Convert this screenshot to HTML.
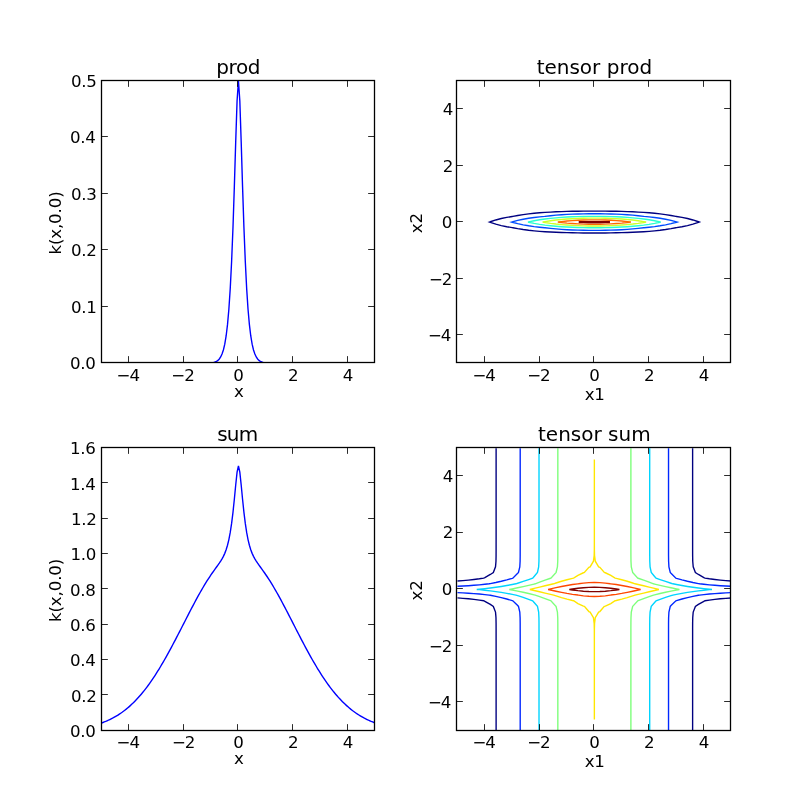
<!DOCTYPE html>
<html><head><meta charset="utf-8"><title>kernel sum and product</title>
<style>
html,body{margin:0;padding:0;background:#fff}
svg{display:block}
text{font-family:"DejaVu Sans","Bitstream Vera Sans","Liberation Sans",sans-serif;fill:#000}
.t{font-size:16.67px;letter-spacing:-0.3px}
.ti{font-size:20.00px}
.n{letter-spacing:-1.1px}
.yl{letter-spacing:-0.15px}
.m{text-anchor:middle}
.e{text-anchor:end}
.sp{fill:none;stroke:#000;stroke-width:1.29;stroke-linejoin:miter}
.tk{fill:none;stroke:#000;stroke-width:0.83}
.ln{fill:none;stroke:#00f;stroke-width:1.39;stroke-linejoin:miter}
.ct{fill:none;stroke-width:1.39;stroke-linejoin:miter}
</style></head><body>
<svg width="812" height="812" viewBox="0 0 812 812">
<rect width="812" height="812" fill="#fff"/>
<clipPath id="c0"><rect x="101.5" y="80.5" width="273" height="282.3"/></clipPath>
<clipPath id="c1"><rect x="456.5" y="80.5" width="274" height="282.3"/></clipPath>
<clipPath id="c2"><rect x="101.5" y="447.5" width="273" height="283.3"/></clipPath>
<clipPath id="c3"><rect x="456.5" y="447.5" width="274" height="283.3"/></clipPath>
<polyline class="ln" clip-path="url(#c0)" points="101.56,363.36 102.93,363.36 104.3,363.36 105.67,363.36 107.04,363.36 108.41,363.36 109.78,363.36 111.14,363.36 112.51,363.36 113.88,363.36 115.25,363.36 116.62,363.36 117.99,363.36 119.36,363.36 120.73,363.36 122.1,363.36 123.46,363.36 124.83,363.36 126.2,363.36 127.57,363.36 128.94,363.36 130.31,363.36 131.68,363.36 133.05,363.36 134.42,363.36 135.78,363.36 137.15,363.36 138.52,363.36 139.89,363.36 141.26,363.36 142.63,363.36 144,363.36 145.37,363.36 146.74,363.36 148.1,363.36 149.47,363.36 150.84,363.36 152.21,363.36 153.58,363.36 154.95,363.36 156.32,363.36 157.69,363.36 159.06,363.36 160.42,363.36 161.79,363.36 163.16,363.36 164.53,363.36 165.9,363.36 167.27,363.36 168.64,363.36 170.01,363.36 171.38,363.36 172.74,363.36 174.11,363.36 175.48,363.36 176.85,363.36 178.22,363.36 179.59,363.36 180.96,363.36 182.33,363.36 183.7,363.36 185.06,363.36 186.43,363.36 187.8,363.36 189.17,363.36 190.54,363.36 191.91,363.36 193.28,363.36 194.65,363.36 196.02,363.35 197.38,363.35 198.75,363.35 200.12,363.34 201.49,363.33 202.86,363.32 204.23,363.3 205.6,363.28 206.97,363.23 208.34,363.17 209.7,363.08 211.07,362.94 212.44,362.74 213.81,362.43 215.18,361.99 216.55,361.33 217.92,360.38 219.29,358.99 220.66,356.98 222.02,354.09 223.39,349.97 224.76,344.14 226.13,335.97 227.5,324.65 228.87,309.21 230.24,288.53 231.61,261.52 232.98,227.44 234.34,186.61 235.71,141.82 237.08,100.79 238.45,80.75 239.82,100.79 241.19,141.82 242.56,186.61 243.93,227.44 245.3,261.52 246.66,288.53 248.03,309.21 249.4,324.65 250.77,335.97 252.14,344.14 253.51,349.97 254.88,354.09 256.25,356.98 257.62,358.99 258.98,360.38 260.35,361.33 261.72,361.99 263.09,362.43 264.46,362.74 265.83,362.94 267.2,363.08 268.57,363.17 269.94,363.23 271.3,363.28 272.67,363.3 274.04,363.32 275.41,363.33 276.78,363.34 278.15,363.35 279.52,363.35 280.89,363.35 282.26,363.36 283.62,363.36 284.99,363.36 286.36,363.36 287.73,363.36 289.1,363.36 290.47,363.36 291.84,363.36 293.21,363.36 294.58,363.36 295.94,363.36 297.31,363.36 298.68,363.36 300.05,363.36 301.42,363.36 302.79,363.36 304.16,363.36 305.53,363.36 306.9,363.36 308.26,363.36 309.63,363.36 311,363.36 312.37,363.36 313.74,363.36 315.11,363.36 316.48,363.36 317.85,363.36 319.22,363.36 320.58,363.36 321.95,363.36 323.32,363.36 324.69,363.36 326.06,363.36 327.43,363.36 328.8,363.36 330.17,363.36 331.54,363.36 332.9,363.36 334.27,363.36 335.64,363.36 337.01,363.36 338.38,363.36 339.75,363.36 341.12,363.36 342.49,363.36 343.86,363.36 345.22,363.36 346.59,363.36 347.96,363.36 349.33,363.36 350.7,363.36 352.07,363.36 353.44,363.36 354.81,363.36 356.18,363.36 357.54,363.36 358.91,363.36 360.28,363.36 361.65,363.36 363.02,363.36 364.39,363.36 365.76,363.36 367.13,363.36 368.5,363.36 369.86,363.36 371.23,363.36 372.6,363.36 373.97,363.36 375.34,363.36"/>
<polyline class="ln" clip-path="url(#c2)" points="101.56,722.99 102.93,722.49 104.3,721.97 105.67,721.42 107.04,720.83 108.41,720.23 109.78,719.58 111.14,718.91 112.51,718.21 113.88,717.47 115.25,716.7 116.62,715.89 117.99,715.04 119.36,714.16 120.73,713.24 122.1,712.28 123.46,711.28 124.83,710.23 126.2,709.15 127.57,708.02 128.94,706.85 130.31,705.63 131.68,704.36 133.05,703.06 134.42,701.7 135.78,700.3 137.15,698.84 138.52,697.34 139.89,695.8 141.26,694.2 142.63,692.55 144,690.86 145.37,689.11 146.74,687.32 148.1,685.47 149.47,683.58 150.84,681.64 152.21,679.65 153.58,677.62 154.95,675.53 156.32,673.41 157.69,671.23 159.06,669.02 160.42,666.76 161.79,664.46 163.16,662.12 164.53,659.74 165.9,657.33 167.27,654.88 168.64,652.4 170.01,649.88 171.38,647.34 172.74,644.77 174.11,642.18 175.48,639.57 176.85,636.94 178.22,634.3 179.59,631.64 180.96,628.97 182.33,626.3 183.7,623.62 185.06,620.94 186.43,618.27 187.8,615.6 189.17,612.94 190.54,610.3 191.91,607.67 193.28,605.07 194.65,602.49 196.02,599.94 197.38,597.42 198.75,594.94 200.12,592.49 201.49,590.09 202.86,587.74 204.23,585.44 205.6,583.19 206.97,580.99 208.34,578.84 209.7,576.76 211.07,574.73 212.44,572.75 213.81,570.81 215.18,568.9 216.55,567.01 217.92,565.11 219.29,563.16 220.66,561.1 222.02,558.86 223.39,556.33 224.76,553.36 226.13,549.75 227.5,545.28 228.87,539.62 230.24,532.45 231.61,523.42 232.98,512.31 234.34,499.23 235.71,485.02 237.08,472.1 238.45,465.8 239.82,472.1 241.19,485.02 242.56,499.23 243.93,512.31 245.3,523.42 246.66,532.45 248.03,539.62 249.4,545.28 250.77,549.75 252.14,553.36 253.51,556.33 254.88,558.86 256.25,561.1 257.62,563.16 258.98,565.11 260.35,567.01 261.72,568.9 263.09,570.81 264.46,572.75 265.83,574.73 267.2,576.76 268.57,578.84 269.94,580.99 271.3,583.19 272.67,585.44 274.04,587.74 275.41,590.09 276.78,592.49 278.15,594.94 279.52,597.42 280.89,599.94 282.26,602.49 283.62,605.07 284.99,607.67 286.36,610.3 287.73,612.94 289.1,615.6 290.47,618.27 291.84,620.94 293.21,623.62 294.58,626.3 295.94,628.97 297.31,631.64 298.68,634.3 300.05,636.94 301.42,639.57 302.79,642.18 304.16,644.77 305.53,647.34 306.9,649.88 308.26,652.4 309.63,654.88 311,657.33 312.37,659.74 313.74,662.12 315.11,664.46 316.48,666.76 317.85,669.02 319.22,671.23 320.58,673.41 321.95,675.53 323.32,677.62 324.69,679.65 326.06,681.64 327.43,683.58 328.8,685.47 330.17,687.32 331.54,689.11 332.9,690.86 334.27,692.55 335.64,694.2 337.01,695.8 338.38,697.34 339.75,698.84 341.12,700.3 342.49,701.7 343.86,703.06 345.22,704.36 346.59,705.63 347.96,706.85 349.33,708.02 350.7,709.15 352.07,710.23 353.44,711.28 354.81,712.28 356.18,713.24 357.54,714.16 358.91,715.04 360.28,715.89 361.65,716.7 363.02,717.47 364.39,718.21 365.76,718.91 367.13,719.58 368.5,720.23 369.86,720.83 371.23,721.42 372.6,721.97 373.97,722.49 375.34,722.99"/>
<path class="ct" clip-path="url(#c1)" stroke="#000080" d="M489.49 222.05L490.33 221.76L495.8 219.96L501.28 218.54L506.75 217.41L512.23 216.51L512.92 216.4L517.7 215.46L523.18 214.58L528.65 213.86L534.13 213.27L539.61 212.79L545.08 212.4L550.56 212.08L556.03 211.81L561.51 211.6L566.98 211.43L572.46 211.3L577.93 211.2L583.41 211.14L588.89 211.1L594.36 211.08L599.84 211.1L605.31 211.14L610.79 211.2L616.26 211.3L621.74 211.43L627.21 211.6L632.69 211.81L638.17 212.08L643.64 212.4L649.12 212.79L654.59 213.27L660.07 213.86L665.54 214.58L671.02 215.46L675.81 216.4L676.49 216.51L681.97 217.41L687.45 218.54L692.92 219.96L698.4 221.76L699.24 222.05L698.4 222.35L692.92 224.15L687.45 225.57L681.97 226.7L676.49 227.6L675.81 227.71L671.02 228.64L665.54 229.53L660.07 230.25L654.59 230.84L649.12 231.32L643.64 231.71L638.17 232.03L632.69 232.29L627.21 232.51L621.74 232.67L616.26 232.81L610.79 232.9L605.31 232.97L599.84 233.01L594.36 233.03L588.89 233.01L583.41 232.97L577.93 232.9L572.46 232.81L566.98 232.67L561.51 232.51L556.03 232.29L550.56 232.03L545.08 231.71L539.61 231.32L534.13 230.84L528.65 230.25L523.18 229.53L517.7 228.64L512.92 227.71L512.23 227.6L506.75 226.7L501.28 225.57L495.8 224.15L490.33 222.35Z"/>
<path class="ct" clip-path="url(#c1)" stroke="#004cff" d="M511.68 222.05L512.23 221.9L517.7 220.44L523.18 219.26L528.65 218.31L534.13 217.53L539.61 216.89L544.63 216.4L545.08 216.34L550.56 215.7L556.03 215.18L561.51 214.75L566.98 214.42L572.46 214.15L577.93 213.96L583.41 213.82L588.89 213.74L594.36 213.72L599.84 213.74L605.31 213.82L610.79 213.96L616.26 214.15L621.74 214.42L627.21 214.75L632.69 215.18L638.17 215.7L643.64 216.34L644.09 216.4L649.12 216.89L654.59 217.53L660.07 218.31L665.54 219.26L671.02 220.44L676.49 221.9L677.04 222.05L676.49 222.21L671.02 223.67L665.54 224.84L660.07 225.8L654.59 226.58L649.12 227.22L644.09 227.71L643.64 227.77L638.17 228.41L632.69 228.93L627.21 229.36L621.74 229.69L616.26 229.96L610.79 230.15L605.31 230.29L599.84 230.37L594.36 230.39L588.89 230.37L583.41 230.29L577.93 230.15L572.46 229.96L566.98 229.69L561.51 229.36L556.03 228.93L550.56 228.41L545.08 227.77L544.63 227.71L539.61 227.22L534.13 226.58L528.65 225.8L523.18 224.84L517.7 223.67L512.23 222.21Z"/>
<path class="ct" clip-path="url(#c1)" stroke="#29ffce" d="M528.01 222.05L528.65 221.9L534.13 220.73L539.61 219.77L545.08 218.99L550.56 218.35L556.03 217.82L561.51 217.4L566.98 217.06L572.46 216.8L577.93 216.61L583.41 216.47L588.16 216.4L588.89 216.39L594.36 216.35L599.84 216.39L600.56 216.4L605.31 216.47L610.79 216.61L616.26 216.8L621.74 217.06L627.21 217.4L632.69 217.82L638.17 218.35L643.64 218.99L649.12 219.77L654.59 220.73L660.07 221.9L660.71 222.05L660.07 222.21L654.59 223.38L649.12 224.34L643.64 225.12L638.17 225.76L632.69 226.29L627.21 226.71L621.74 227.04L616.26 227.31L610.79 227.5L605.31 227.64L600.56 227.71L599.84 227.72L594.36 227.76L588.89 227.72L588.16 227.71L583.41 227.64L577.93 227.5L572.46 227.31L566.98 227.04L561.51 226.71L556.03 226.29L550.56 225.76L545.08 225.12L539.61 224.34L534.13 223.38L528.65 222.21Z"/>
<path class="ct" clip-path="url(#c1)" stroke="#ceff29" d="M542.64 222.05L545.08 221.61L550.56 220.76L556.03 220.06L561.51 219.5L566.98 219.05L572.46 218.7L577.93 218.44L583.41 218.26L588.89 218.15L594.36 218.12L599.84 218.15L605.31 218.26L610.79 218.44L616.26 218.7L621.74 219.05L627.21 219.5L632.69 220.06L638.17 220.76L643.64 221.61L646.09 222.05L643.64 222.5L638.17 223.35L632.69 224.05L627.21 224.61L621.74 225.06L616.26 225.41L610.79 225.67L605.31 225.85L599.84 225.96L594.36 225.99L588.89 225.96L583.41 225.85L577.93 225.67L572.46 225.41L566.98 225.06L561.51 224.61L556.03 224.05L550.56 223.35L545.08 222.5Z"/>
<path class="ct" clip-path="url(#c1)" stroke="#ff6800" d="M557.83 222.05L561.51 221.59L566.98 221.03L572.46 220.6L577.93 220.27L583.41 220.04L588.89 219.91L594.36 219.87L599.84 219.91L605.31 220.04L610.79 220.27L616.26 220.6L621.74 221.03L627.21 221.59L630.89 222.05L627.21 222.52L621.74 223.08L616.26 223.51L610.79 223.84L605.31 224.07L599.84 224.2L594.36 224.24L588.89 224.2L583.41 224.07L577.93 223.84L572.46 223.51L566.98 223.08L561.51 222.52Z"/>
<path class="ct" clip-path="url(#c1)" stroke="#800000" d="M578.84 222.05L583.41 221.83L588.89 221.67L594.36 221.62L599.84 221.67L605.31 221.83L609.88 222.05L605.31 222.28L599.84 222.44L594.36 222.49L588.89 222.44L583.41 222.28Z"/>
<rect x="578.84" y="220.95" width="31.04" height="2.2" fill="#800000"/>
<path class="ct" clip-path="url(#c3)" stroke="#000080" d="M457.47 597.91L462.95 598.32L468.42 598.8L473.9 599.39L479.38 600.1L483.72 600.75L484.85 601.31L490.33 604.43L493.34 606.4L495.51 612.05L495.8 615.36L495.98 617.71L496.08 623.36L496.1 629.01L496.1 634.66L496.11 640.32L496.11 645.97L496.11 651.62L496.11 657.27L496.11 662.92L496.11 668.58L496.11 674.23L496.11 679.88L496.11 685.53L496.11 691.18L496.11 696.84L496.11 702.49L496.11 708.14L496.11 713.79L496.11 719.45L496.11 725.1L496.11 730.75M457.47 580.98L462.95 580.58L468.42 580.09L473.9 579.5L479.38 578.8L483.72 578.14L484.85 577.58L490.33 574.46L493.34 572.49L495.51 566.84L495.8 563.53L495.98 561.18L496.08 555.53L496.1 549.88L496.1 544.23L496.11 538.58L496.11 532.92L496.11 527.27L496.11 521.62L496.11 515.97L496.11 510.32L496.11 504.66L496.11 499.01L496.11 493.36L496.11 487.71L496.11 482.05L496.11 476.4L496.11 470.75L496.11 465.1L496.11 459.45L496.11 453.79L496.11 448.14M692.62 730.75L692.62 725.1L692.62 719.45L692.62 713.79L692.62 708.14L692.62 702.49L692.62 696.84L692.62 691.18L692.62 685.53L692.62 679.88L692.62 674.23L692.62 668.58L692.62 662.92L692.62 657.27L692.62 651.62L692.62 645.97L692.62 640.32L692.62 634.66L692.62 629.01L692.64 623.36L692.74 617.71L692.92 615.36L693.21 612.05L695.39 606.4L698.4 604.43L703.87 601.31L705.01 600.75L709.35 600.1L714.82 599.39L720.3 598.8L725.77 598.32L731.25 597.91M692.62 448.14L692.62 453.79L692.62 459.45L692.62 465.1L692.62 470.75L692.62 476.4L692.62 482.05L692.62 487.71L692.62 493.36L692.62 499.01L692.62 504.66L692.62 510.32L692.62 515.97L692.62 521.62L692.62 527.27L692.62 532.92L692.62 538.58L692.62 544.23L692.62 549.88L692.64 555.53L692.74 561.18L692.92 563.53L693.21 566.84L695.39 572.49L698.4 574.46L703.87 577.58L705.01 578.14L709.35 578.8L714.82 579.5L720.3 580.09L725.77 580.58L731.25 580.98"/>
<path class="ct" clip-path="url(#c3)" stroke="#0028ff" d="M457.47 592.6L462.95 592.86L468.42 593.19L473.9 593.58L479.38 594.05L484.85 594.59L489.17 595.1L490.33 595.3L495.8 596.4L501.28 597.64L506.75 599.04L512.23 600.57L512.82 600.75L517.7 605.59L518.46 606.4L519.8 612.05L520.11 617.71L520.18 623.36L520.19 629.01L520.2 634.66L520.2 640.32L520.2 645.97L520.2 651.62L520.2 657.27L520.2 662.92L520.2 668.58L520.2 674.23L520.2 679.88L520.2 685.53L520.2 691.18L520.2 696.84L520.2 702.49L520.2 708.14L520.2 713.79L520.2 719.45L520.2 725.1L520.2 730.75M457.47 586.3L462.95 586.03L468.42 585.7L473.9 585.31L479.38 584.85L484.85 584.3L489.17 583.79L490.33 583.59L495.8 582.49L501.28 581.25L506.75 579.86L512.23 578.32L512.82 578.14L517.7 573.3L518.46 572.49L519.8 566.84L520.11 561.18L520.18 555.53L520.19 549.88L520.2 544.23L520.2 538.58L520.2 532.92L520.2 527.27L520.2 521.62L520.2 515.97L520.2 510.32L520.2 504.66L520.2 499.01L520.2 493.36L520.2 487.71L520.2 482.05L520.2 476.4L520.2 470.75L520.2 465.1L520.2 459.45L520.2 453.79L520.2 448.14M668.53 730.75L668.53 725.1L668.53 719.45L668.53 713.79L668.53 708.14L668.53 702.49L668.53 696.84L668.53 691.18L668.53 685.53L668.53 679.88L668.53 674.23L668.53 668.58L668.53 662.92L668.53 657.27L668.53 651.62L668.53 645.97L668.53 640.32L668.53 634.66L668.53 629.01L668.54 623.36L668.61 617.71L668.92 612.05L670.26 606.4L671.02 605.59L675.9 600.75L676.49 600.57L681.97 599.04L687.45 597.64L692.92 596.4L698.4 595.3L699.55 595.1L703.87 594.59L709.35 594.05L714.82 593.58L720.3 593.19L725.77 592.86L731.25 592.6M668.53 448.14L668.53 453.79L668.53 459.45L668.53 465.1L668.53 470.75L668.53 476.4L668.53 482.05L668.53 487.71L668.53 493.36L668.53 499.01L668.53 504.66L668.53 510.32L668.53 515.97L668.53 521.62L668.53 527.27L668.53 532.92L668.53 538.58L668.53 544.23L668.53 549.88L668.54 555.53L668.61 561.18L668.92 566.84L670.26 572.49L671.02 573.3L675.9 578.14L676.49 578.32L681.97 579.86L687.45 581.25L692.92 582.49L698.4 583.59L699.55 583.79L703.87 584.3L709.35 584.85L714.82 585.31L720.3 585.7L725.77 586.03L731.25 586.3"/>
<path class="ct" clip-path="url(#c3)" stroke="#00d4ff" d="M539.01 730.75L539.01 725.1L539.01 719.45L539.01 713.79L539.01 708.14L539.01 702.49L539.01 696.84L539.01 691.18L539.01 685.53L539.01 679.88L539.01 674.23L539.01 668.58L539.01 662.92L539.01 657.27L539.01 651.62L539.01 645.97L539.01 640.32L539.01 634.66L539.01 629.01L539 623.36L538.94 617.71L538.66 612.05L537.46 606.4L534.13 602.46L532.66 600.75L528.65 599.32L523.18 597.44L517.7 595.66L515.87 595.1L512.23 594.36L506.75 593.34L501.28 592.42L495.8 591.59L490.33 590.86L484.85 590.22L479.38 589.67L476.74 589.45L479.38 589.22L484.85 588.67L490.33 588.03L495.8 587.3L501.28 586.48L506.75 585.55L512.23 584.53L515.87 583.79L517.7 583.23L523.18 581.45L528.65 579.57L532.66 578.14L534.13 576.43L537.46 572.49L538.66 566.84L538.94 561.18L539 555.53L539.01 549.88L539.01 544.23L539.01 538.58L539.01 532.92L539.01 527.27L539.01 521.62L539.01 515.97L539.01 510.32L539.01 504.66L539.01 499.01L539.01 493.36L539.01 487.71L539.01 482.05L539.01 476.4L539.01 470.75L539.01 465.1L539.01 459.45L539.01 453.79L539.01 448.14M649.71 730.75L649.71 725.1L649.71 719.45L649.71 713.79L649.71 708.14L649.71 702.49L649.71 696.84L649.71 691.18L649.71 685.53L649.71 679.88L649.71 674.23L649.71 668.58L649.71 662.92L649.71 657.27L649.71 651.62L649.71 645.97L649.71 640.32L649.71 634.66L649.71 629.01L649.72 623.36L649.78 617.71L650.06 612.05L651.26 606.4L654.59 602.46L656.06 600.75L660.07 599.32L665.54 597.44L671.02 595.66L672.86 595.1L676.49 594.36L681.97 593.34L687.45 592.42L692.92 591.59L698.4 590.86L703.87 590.22L709.35 589.67L711.98 589.45L709.35 589.22L703.87 588.67L698.4 588.03L692.92 587.3L687.45 586.48L681.97 585.55L676.49 584.53L672.86 583.79L671.02 583.23L665.54 581.45L660.07 579.57L656.06 578.14L654.59 576.43L651.26 572.49L650.06 566.84L649.78 561.18L649.72 555.53L649.71 549.88L649.71 544.23L649.71 538.58L649.71 532.92L649.71 527.27L649.71 521.62L649.71 515.97L649.71 510.32L649.71 504.66L649.71 499.01L649.71 493.36L649.71 487.71L649.71 482.05L649.71 476.4L649.71 470.75L649.71 465.1L649.71 459.45L649.71 453.79L649.71 448.14"/>
<path class="ct" clip-path="url(#c3)" stroke="#7dff7a" d="M557.83 730.75L557.83 725.1L557.83 719.45L557.83 713.79L557.83 708.14L557.83 702.49L557.83 696.84L557.83 691.18L557.83 685.53L557.83 679.88L557.83 674.23L557.83 668.58L557.83 662.92L557.83 657.27L557.83 651.62L557.83 645.97L557.83 640.32L557.83 634.66L557.83 629.01L557.82 623.36L557.75 617.71L557.43 612.05L556.05 606.4L556.03 606.39L550.94 600.75L550.56 600.62L545.08 598.67L539.61 596.68L535.24 595.1L534.13 594.83L528.65 593.53L523.18 592.28L517.7 591.09L512.23 589.99L509.33 589.45L512.23 588.91L517.7 587.8L523.18 586.61L528.65 585.36L534.13 584.06L535.24 583.79L539.61 582.21L545.08 580.22L550.56 578.27L550.94 578.14L556.03 572.5L556.05 572.49L557.43 566.84L557.75 561.18L557.82 555.53L557.83 549.88L557.83 544.23L557.83 538.58L557.83 532.92L557.83 527.27L557.83 521.62L557.83 515.97L557.83 510.32L557.83 504.66L557.83 499.01L557.83 493.36L557.83 487.71L557.83 482.05L557.83 476.4L557.83 470.75L557.83 465.1L557.83 459.45L557.83 453.79L557.83 448.14M630.89 730.75L630.89 725.1L630.89 719.45L630.89 713.79L630.89 708.14L630.89 702.49L630.89 696.84L630.89 691.18L630.89 685.53L630.89 679.88L630.89 674.23L630.89 668.58L630.89 662.92L630.89 657.27L630.89 651.62L630.89 645.97L630.89 640.32L630.89 634.66L630.89 629.01L630.91 623.36L630.98 617.71L631.29 612.05L632.68 606.4L632.69 606.39L637.78 600.75L638.17 600.62L643.64 598.67L649.12 596.68L653.48 595.1L654.59 594.83L660.07 593.53L665.54 592.28L671.02 591.09L676.49 589.99L679.39 589.45L676.49 588.91L671.02 587.8L665.54 586.61L660.07 585.36L654.59 584.06L653.48 583.79L649.12 582.21L643.64 580.22L638.17 578.27L637.78 578.14L632.69 572.5L632.68 572.49L631.29 566.84L630.98 561.18L630.91 555.53L630.89 549.88L630.89 544.23L630.89 538.58L630.89 532.92L630.89 527.27L630.89 521.62L630.89 515.97L630.89 510.32L630.89 504.66L630.89 499.01L630.89 493.36L630.89 487.71L630.89 482.05L630.89 476.4L630.89 470.75L630.89 465.1L630.89 459.45L630.89 453.79L630.89 448.14"/>
<path class="ct" clip-path="url(#c3)" stroke="#ffe600" d="M529.88 589.45L534.13 588.44L539.61 587.11L545.08 585.79L550.56 584.5L553.67 583.79L556.03 582.99L561.51 581.26L566.98 579.71L572.46 578.37L573.63 578.14L577.93 575.37L583.41 572.77L584.39 572.49L588.89 567.31L590.1 566.84L593.44 561.18L594.17 555.53L594.32 549.88L594.35 544.23L594.36 538.58L594.36 532.92L594.36 527.27L594.36 521.62L594.36 515.97L594.36 510.32L594.36 504.66L594.36 499.01L594.36 493.36L594.36 487.71L594.36 482.05L594.36 476.4L594.36 470.75L594.36 465.1L594.36 459.45L594.36 465.1L594.36 470.75L594.36 476.4L594.36 482.05L594.36 487.71L594.36 493.36L594.36 499.01L594.36 504.66L594.36 510.32L594.36 515.97L594.36 521.62L594.36 527.27L594.36 532.92L594.36 538.58L594.37 544.23L594.4 549.88L594.55 555.53L595.28 561.18L598.63 566.84L599.84 567.31L604.33 572.49L605.31 572.77L610.79 575.37L615.09 578.14L616.26 578.37L621.74 579.71L627.21 581.26L632.69 582.99L635.05 583.79L638.17 584.5L643.64 585.79L649.12 587.11L654.59 588.44L658.85 589.45L654.59 590.45L649.12 591.78L643.64 593.1L638.17 594.39L635.05 595.1L632.69 595.9L627.21 597.63L621.74 599.18L616.26 600.52L615.09 600.75L610.79 603.52L605.31 606.12L604.33 606.4L599.84 611.58L598.63 612.05L595.28 617.71L594.55 623.36L594.4 629.01L594.37 634.66L594.36 640.32L594.36 645.97L594.36 651.62L594.36 657.27L594.36 662.92L594.36 668.58L594.36 674.23L594.36 679.88L594.36 685.53L594.36 691.18L594.36 696.84L594.36 702.49L594.36 708.14L594.36 713.79L594.36 719.45L594.36 713.79L594.36 708.14L594.36 702.49L594.36 696.84L594.36 691.18L594.36 685.53L594.36 679.88L594.36 674.23L594.36 668.58L594.36 662.92L594.36 657.27L594.36 651.62L594.36 645.97L594.36 640.32L594.35 634.66L594.32 629.01L594.17 623.36L593.44 617.71L590.1 612.05L588.89 611.58L584.39 606.4L583.41 606.12L577.93 603.52L573.63 600.75L572.46 600.52L566.98 599.18L561.51 597.63L556.03 595.9L553.67 595.1L550.56 594.39L545.08 593.1L539.61 591.78L534.13 590.45Z"/>
<path class="ct" clip-path="url(#c3)" stroke="#ff4700" d="M548.14 589.45L550.56 588.87L556.03 587.64L561.51 586.49L566.98 585.45L572.46 584.56L577.93 583.84L578.46 583.79L583.41 583.07L588.89 582.59L594.36 582.42L599.84 582.59L605.31 583.07L610.26 583.79L610.79 583.84L616.26 584.56L621.74 585.45L627.21 586.49L632.69 587.64L638.17 588.87L640.59 589.45L638.17 590.02L632.69 591.26L627.21 592.41L621.74 593.44L616.26 594.33L610.79 595.05L610.26 595.1L605.31 595.82L599.84 596.3L594.36 596.47L588.89 596.3L583.41 595.82L578.46 595.1L577.93 595.05L572.46 594.33L566.98 593.44L561.51 592.41L556.03 591.26L550.56 590.02Z"/>
<path class="ct" clip-path="url(#c3)" stroke="#800000" d="M569.34 589.45L572.46 588.94L577.93 588.22L583.41 587.69L588.89 587.37L594.36 587.26L599.84 587.37L605.31 587.69L610.79 588.22L616.26 588.94L619.38 589.45L616.26 589.95L610.79 590.67L605.31 591.2L599.84 591.52L594.36 591.63L588.89 591.52L583.41 591.2L577.93 590.67L572.46 589.95Z"/>
<path class="tk" d="M128.5 362.5v-6.36M128.5 80.5v6.36M183.5 362.5v-6.36M183.5 80.5v6.36M237.5 362.5v-6.36M237.5 80.5v6.36M292.5 362.5v-6.36M292.5 80.5v6.36M347.5 362.5v-6.36M347.5 80.5v6.36M101.5 362.5h6.36M374.5 362.5h-6.36M101.5 306.5h6.36M374.5 306.5h-6.36M101.5 249.5h6.36M374.5 249.5h-6.36M101.5 193.5h6.36M374.5 193.5h-6.36M101.5 136.5h6.36M374.5 136.5h-6.36M101.5 80.5h6.36M374.5 80.5h-6.36"/>
<rect class="sp" x="101.5" y="80.5" width="273" height="282"/>
<text class="t m n" x="127.74" y="380.7">−4</text>
<text class="t m n" x="182.5" y="380.7">−2</text>
<text class="t m" x="238.45" y="380.7">0</text>
<text class="t m" x="293.21" y="380.7">2</text>
<text class="t m" x="347.96" y="380.7">4</text>
<text class="t e" x="95.5" y="369.46">0.0</text>
<text class="t e" x="96.5" y="312.94">0.1</text>
<text class="t e" x="96.5" y="256.42">0.2</text>
<text class="t e" x="96.5" y="199.89">0.3</text>
<text class="t e" x="95.5" y="143.37">0.4</text>
<text class="t e" x="96.5" y="86.85">0.5</text>
<text class="ti m" style="letter-spacing:-0.4px" x="238.2" y="73.6">prod</text>
<text class="t m" x="238.75" y="396.7">x</text>
<text class="t m yl" transform="translate(60.5 223.05) rotate(-90)">k(x,0.0)</text>
<path class="tk" d="M484.5 362.5v-6.36M484.5 80.5v6.36M539.5 362.5v-6.36M539.5 80.5v6.36M593.5 362.5v-6.36M593.5 80.5v6.36M648.5 362.5v-6.36M648.5 80.5v6.36M703.5 362.5v-6.36M703.5 80.5v6.36M456.5 334.5h6.36M730.5 334.5h-6.36M456.5 278.5h6.36M730.5 278.5h-6.36M456.5 221.5h6.36M730.5 221.5h-6.36M456.5 165.5h6.36M730.5 165.5h-6.36M456.5 108.5h6.36M730.5 108.5h-6.36"/>
<rect class="sp" x="456.5" y="80.5" width="274" height="282"/>
<text class="t m n" x="483.65" y="380.7">−4</text>
<text class="t m n" x="538.41" y="380.7">−2</text>
<text class="t m" x="594.36" y="380.7">0</text>
<text class="t m" x="649.12" y="380.7">2</text>
<text class="t m" x="703.87" y="380.7">4</text>
<text class="t e n" x="450.3" y="341.2">−4</text>
<text class="t e n" x="451.3" y="284.68">−2</text>
<text class="t e" x="452.1" y="228.15">0</text>
<text class="t e" x="453" y="171.63">2</text>
<text class="t e" x="453" y="115.11">4</text>
<text class="ti m" x="594.36" y="73.6">tensor prod</text>
<text class="t m" x="594.66" y="399.7">x1</text>
<text class="t m yl" transform="translate(421.5 223.05) rotate(-90)">x2</text>
<path class="tk" d="M128.5 730.5v-6.36M128.5 447.5v6.36M183.5 730.5v-6.36M183.5 447.5v6.36M237.5 730.5v-6.36M237.5 447.5v6.36M292.5 730.5v-6.36M292.5 447.5v6.36M347.5 730.5v-6.36M347.5 447.5v6.36M101.5 730.5h6.36M374.5 730.5h-6.36M101.5 694.5h6.36M374.5 694.5h-6.36M101.5 659.5h6.36M374.5 659.5h-6.36M101.5 624.5h6.36M374.5 624.5h-6.36M101.5 588.5h6.36M374.5 588.5h-6.36M101.5 553.5h6.36M374.5 553.5h-6.36M101.5 518.5h6.36M374.5 518.5h-6.36M101.5 482.5h6.36M374.5 482.5h-6.36M101.5 447.5h6.36M374.5 447.5h-6.36"/>
<rect class="sp" x="101.5" y="447.5" width="273" height="283"/>
<text class="t m n" x="127.74" y="747.9">−4</text>
<text class="t m n" x="183.1" y="747.9">−2</text>
<text class="t m" x="238.45" y="747.9">0</text>
<text class="t m" x="293.21" y="747.9">2</text>
<text class="t m" x="347.96" y="747.9">4</text>
<text class="t e" x="95.5" y="736.85">0.0</text>
<text class="t e" x="96.5" y="701.52">0.2</text>
<text class="t e" x="95.5" y="666.2">0.4</text>
<text class="t e" x="95.5" y="630.87">0.6</text>
<text class="t e" x="95.5" y="595.55">0.8</text>
<text class="t e" x="96.1" y="560.22">1.0</text>
<text class="t e" x="96.5" y="524.89">1.2</text>
<text class="t e" x="95.5" y="489.57">1.4</text>
<text class="t e" x="95.5" y="454.24">1.6</text>
<text class="ti m" style="letter-spacing:-0.75px" x="237.35" y="440.6">sum</text>
<text class="t m" x="238.75" y="763.9">x</text>
<text class="t m yl" transform="translate(60.5 590.45) rotate(-90)">k(x,0.0)</text>
<path class="tk" d="M484.5 730.5v-6.36M484.5 447.5v6.36M539.5 730.5v-6.36M539.5 447.5v6.36M593.5 730.5v-6.36M593.5 447.5v6.36M648.5 730.5v-6.36M648.5 447.5v6.36M703.5 730.5v-6.36M703.5 447.5v6.36M456.5 701.5h6.36M730.5 701.5h-6.36M456.5 645.5h6.36M730.5 645.5h-6.36M456.5 588.5h6.36M730.5 588.5h-6.36M456.5 532.5h6.36M730.5 532.5h-6.36M456.5 475.5h6.36M730.5 475.5h-6.36"/>
<rect class="sp" x="456.5" y="447.5" width="274" height="283"/>
<text class="t m n" x="483.65" y="747.9">−4</text>
<text class="t m n" x="538.41" y="747.9">−2</text>
<text class="t m" x="594.36" y="747.9">0</text>
<text class="t m" x="649.12" y="747.9">2</text>
<text class="t m" x="703.87" y="747.9">4</text>
<text class="t e n" x="450.3" y="707.99">−4</text>
<text class="t e n" x="451.3" y="652.27">−2</text>
<text class="t e" x="452.1" y="594.95">0</text>
<text class="t e" x="453" y="538.42">2</text>
<text class="t e" x="453" y="481.9">4</text>
<text class="ti m" x="594.36" y="440.6">tensor sum</text>
<text class="t m" x="594.66" y="766.9">x1</text>
<text class="t m yl" transform="translate(421.5 590.45) rotate(-90)">x2</text>
</svg>
</body></html>
